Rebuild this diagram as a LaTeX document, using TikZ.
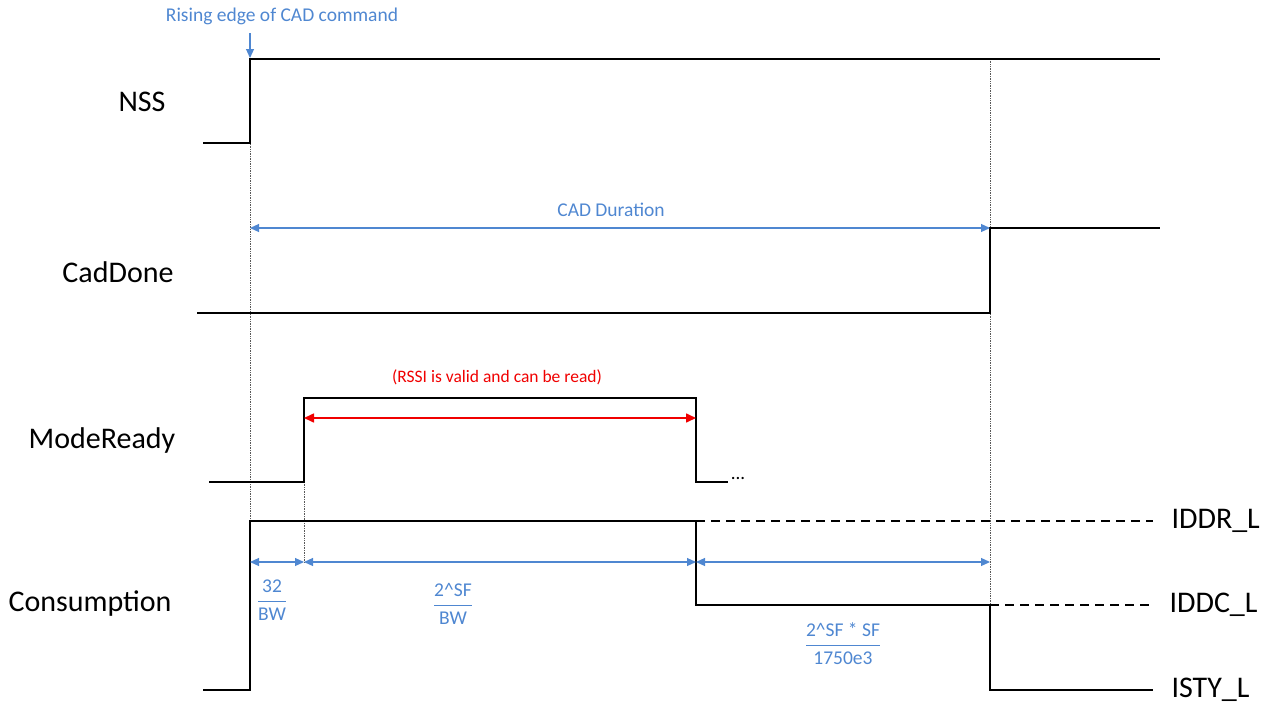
\documentclass[tikz,border=0pt]{standalone}
\usepackage{fontspec}
\setmainfont{Carlito}
\usetikzlibrary{arrows.meta}
\definecolor{bl}{RGB}{79,135,209}
\definecolor{rd}{RGB}{240,0,0}
\begin{document}
\begin{tikzpicture}[x=1pt,y=-1pt,
  sig/.style={line width=1.6pt,black},
  dotg/.style={densely dotted,line width=0.7pt,gray!70!black},
  dashl/.style={line width=1.4pt,dash pattern=on 9pt off 6pt},
  dimarr/.style={bl,line width=1.2pt,{Triangle[length=9pt,width=8pt]}-{Triangle[length=9pt,width=8pt]}},
  redarr/.style={rd,line width=1.6pt,{Triangle[length=10pt,width=9pt]}-{Triangle[length=10pt,width=9pt]}},
  lab/.style={font=\fontsize{30}{34}\selectfont},
  blt/.style={bl,font=\fontsize{19.5}{23}\selectfont},
  frac/.style={bl,font=\fontsize{19.5}{23}\selectfont,align=center}]
\useasboundingbox (0,0) rectangle (1269,712);
% labels
\node[lab] (lnss) at (142,102) {NSS};
\node[lab] (lcad) at (118,272) {CadDone};
\node[lab] (lmr) at (102,440) {ModeReady};
\node[lab] (lcon) at (90,604) {Consumption};
% dotted guides
\coordinate (d1t) at (250,59); \coordinate (d1b) at (250,690);
\coordinate (d2t) at (990,59); \coordinate (d2b) at (990,690);
\coordinate (d3t) at (304,482); \coordinate (d3b) at (304,562);
\draw[dotg] (d1t) -- (d1b);
\draw[dotg] (d2t) -- (d2b);
\draw[dotg] (d3t) -- (d3b);
% NSS
\draw[sig] (203,143) -- (250,143) -- (250,59) -- (1160,59);
\node[blt] (rise) at (282,16) {Rising edge of CAD command};
\coordinate (ra) at (250,33); \coordinate (rb) at (250,58);
\draw[bl,line width=1.2pt,-{Triangle[length=9pt,width=8pt]}] (ra) -- (rb);
% CadDone
\draw[sig] (197,313) -- (990,313) -- (990,228) -- (1160,228);
\coordinate (ca) at (250,228); \coordinate (cb) at (990,228);
\draw[dimarr] (ca) -- (cb);
\node[blt] (cadd) at (611,210) {CAD Duration};
% ModeReady
\draw[sig] (209,482) -- (304,482) -- (304,398) -- (696,398) -- (696,482) -- (728,482);
\node[font=\fontsize{19}{20}\selectfont] (dots) at (738,478) {...};
\coordinate (ma) at (304,418); \coordinate (mb) at (696,418);
\draw[redarr] (ma) -- (mb);
\node[rd,font=\fontsize{17.5}{20}\selectfont] (rssi) at (497,377) {(RSSI is valid and can be read)};
% Consumption
\draw[sig] (203,690) -- (250,690) -- (250,521) -- (696,521) -- (696,605) -- (990,605) -- (990,690) -- (1153,690);
\draw[dashl] (696,521) -- (1153,521);
\draw[dashl] (990,605) -- (1153,605);
\node[lab,anchor=west] (iddr) at (1168,521) {IDDR\_L};
\node[lab,anchor=west] (iddc) at (1166,605) {IDDC\_L};
\node[lab,anchor=west] (isty) at (1168,690) {ISTY\_L};
% dimension arrows
\coordinate (a1) at (250,562); \coordinate (a2) at (304,562);
\coordinate (a3) at (696,562); \coordinate (a4) at (990,562);
\draw[dimarr] (a1) -- (a2);
\draw[dimarr] (a2) -- (a3);
\draw[dimarr] (a3) -- (a4);
\node[frac] (f1) at (272,600) {$\displaystyle\frac{\hbox{32}}{\hbox{BW}}$};
\node[frac] (f2) at (453,604) {$\displaystyle\frac{\hbox{2\^{}SF}}{\hbox{BW}}$};
\node[frac] (f3) at (843,644) {$\displaystyle\frac{\hbox{2\^{}SF * SF}}{\hbox{1750e3}}$};
\end{tikzpicture}
\end{document}
